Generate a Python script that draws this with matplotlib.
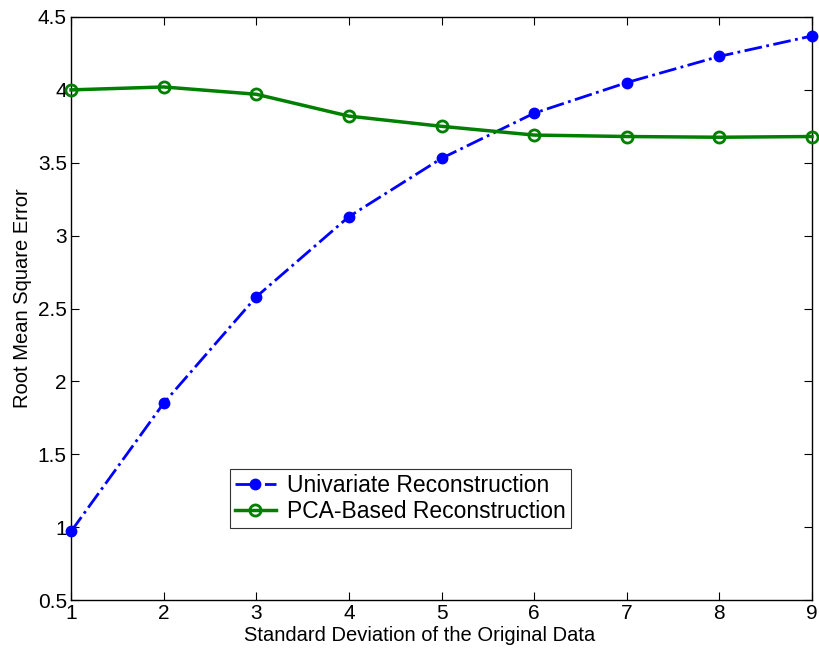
import numpy as np
import matplotlib as mpl
mpl.use('Agg')
import matplotlib.pyplot as plt

plt.rcParams['font.family'] = ['Liberation Sans', 'DejaVu Sans']

# data
std_dev = [1, 2, 3, 4, 5, 6, 7, 8, 9]
univariate = [0.97, 1.85, 2.58, 3.13, 3.53, 3.84, 4.05, 4.23, 4.37]
pca_based = [4.00, 4.02, 3.97, 3.82, 3.75, 3.69, 3.68, 3.675, 3.68]

fig = plt.figure(figsize=(8.19, 6.58), dpi=100)
ax = fig.add_axes([71 / 819, 1 - 600 / 658, (812 - 71) / 819, (600 - 17) / 658])

ax.plot(std_dev, univariate, '-.', color='#0000ff', lw=2, marker='o',
        ms=7.5, mfc='#0000ff', mec='#0000ff', label='Univariate Reconstruction',
        clip_on=False, zorder=3)
ax.plot(std_dev, pca_based, '-', color='#007f00', lw=2.5, marker='o',
        ms=8, mfc='none', mec='#007f00', mew=2, label='PCA-Based Reconstruction',
        clip_on=False, zorder=3)

ax.set_xlim(1, 9)
ax.set_ylim(0.5, 4.5)
ax.set_xticks(std_dev)
ax.set_yticks(np.arange(0.5, 4.51, 0.5))
ax.set_yticklabels(['0.5', '1', '1.5', '2', '2.5', '3', '3.5', '4', '4.5'])
ax.tick_params(direction='in', top=True, right=True, length=6, width=0.8,
               labelsize=15, pad=3)
for s in ax.spines.values():
    s.set_linewidth(1)

ax.set_xlabel('Standard Deviation of the Original Data', fontsize=14.5)
ax.set_ylabel('Root Mean Square Error', fontsize=14.5)
ax.xaxis.set_label_coords(0.47, -0.045)
ax.yaxis.set_label_coords(-0.053, 0.518)

leg = ax.legend(loc='upper left', bbox_to_anchor=((230 - 71) / 741, 1 - (469 - 17) / 583),
                fontsize=16.5, frameon=True, fancybox=False, edgecolor='black',
                handlelength=1.8, handletextpad=0.5, borderpad=0.2,
                labelspacing=0.15, borderaxespad=0)
leg.get_frame().set_linewidth(0.8)

plt.savefig('out.png', dpi=100)
plt.close()
